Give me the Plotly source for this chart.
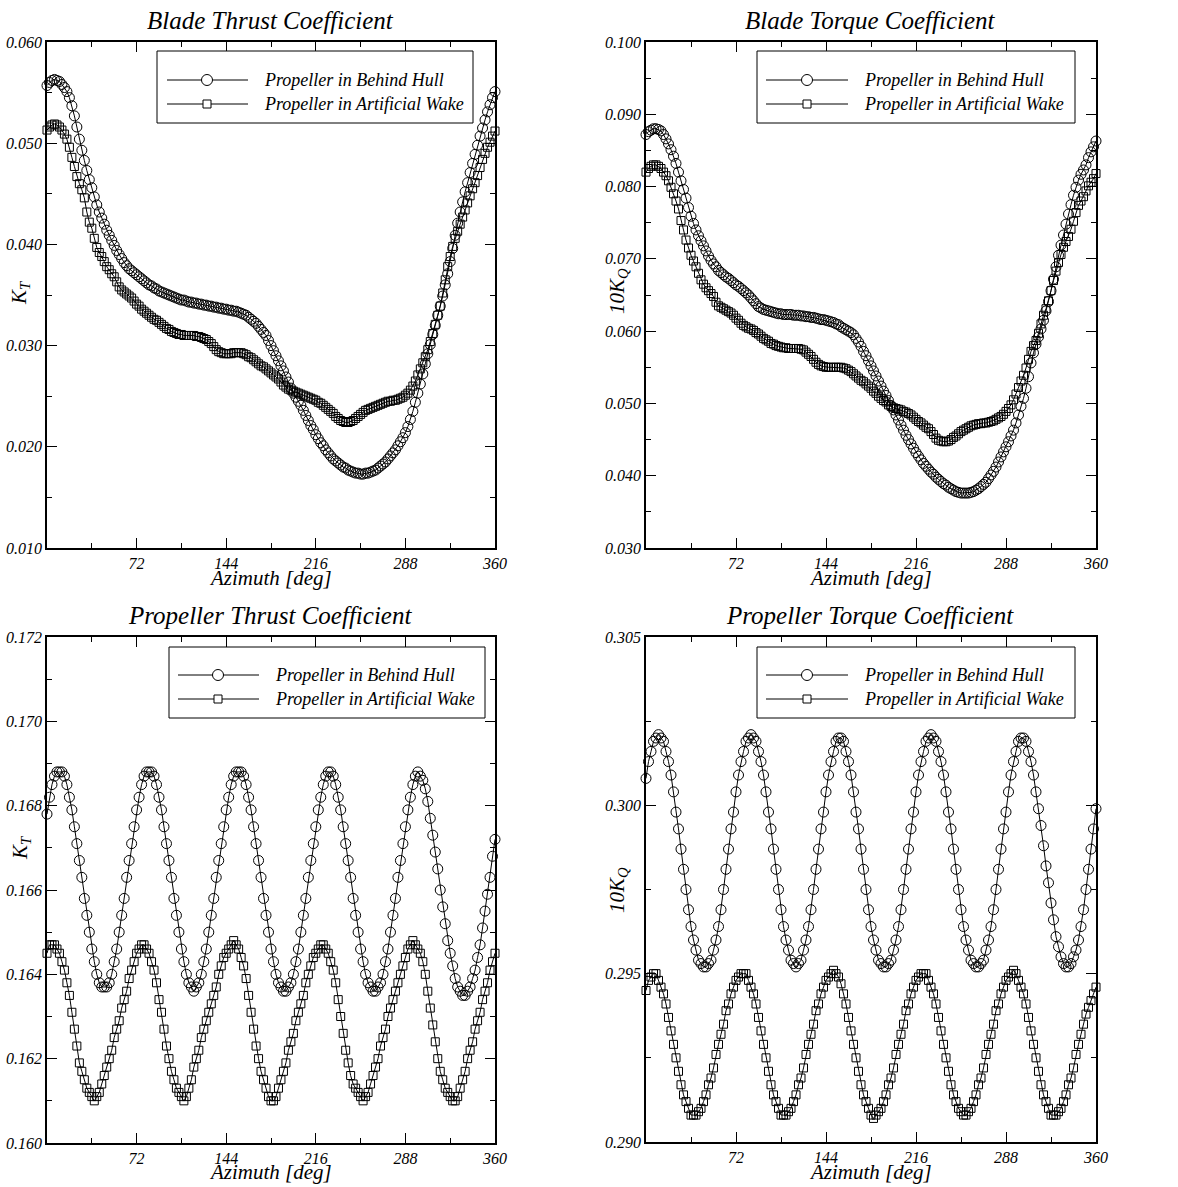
import plotly.graph_objects as go

# ---------------- data ----------------
AZIMUTH = list(range(0, 361, 2))

BLADE_KT_HULL = [
    0.0557, 0.0560, 0.0562, 0.0563, 0.0562, 0.0561, 0.0558, 0.0555, 0.0551, 0.0545,
    0.0537, 0.0527, 0.0516, 0.0504, 0.0493, 0.0483, 0.0473, 0.0464, 0.0456, 0.0447,
    0.0439, 0.0432, 0.0426, 0.0420, 0.0414, 0.0409, 0.0404, 0.0399, 0.0394, 0.0390,
    0.0386, 0.0382, 0.0379, 0.0376, 0.0374, 0.0372, 0.0370, 0.0368, 0.0366, 0.0364,
    0.0362, 0.0360, 0.0359, 0.0357, 0.0356, 0.0354, 0.0353, 0.0352, 0.0351, 0.0350,
    0.0349, 0.0348, 0.0347, 0.0346, 0.0345, 0.0345, 0.0344, 0.0343, 0.0343, 0.0342,
    0.0342, 0.0341, 0.0341, 0.0340, 0.0340, 0.0339, 0.0339, 0.0338, 0.0338, 0.0337,
    0.0337, 0.0336, 0.0336, 0.0335, 0.0335, 0.0334, 0.0334, 0.0333, 0.0332, 0.0331,
    0.0330, 0.0328, 0.0326, 0.0324, 0.0322, 0.0319, 0.0316, 0.0313, 0.0310, 0.0305,
    0.0300, 0.0295, 0.0290, 0.0285, 0.0280, 0.0275, 0.0269, 0.0264, 0.0258, 0.0253,
    0.0249, 0.0245, 0.0241, 0.0236, 0.0231, 0.0226, 0.0221, 0.0217, 0.0212, 0.0208,
    0.0204, 0.0201, 0.0197, 0.0194, 0.0191, 0.0188, 0.0186, 0.0184, 0.0182, 0.0180,
    0.0179, 0.0177, 0.0176, 0.0175, 0.0174, 0.0174, 0.0173, 0.0173, 0.0174, 0.0174,
    0.0175, 0.0176, 0.0177, 0.0179, 0.0181, 0.0183, 0.0185, 0.0188, 0.0191, 0.0194,
    0.0197, 0.0201, 0.0205, 0.0209, 0.0214, 0.0220, 0.0227, 0.0235, 0.0244, 0.0253,
    0.0262, 0.0272, 0.0282, 0.0292, 0.0301, 0.0311, 0.0320, 0.0330, 0.0339, 0.0349,
    0.0360, 0.0371, 0.0383, 0.0396, 0.0409, 0.0421, 0.0432, 0.0442, 0.0452, 0.0461,
    0.0471, 0.0480, 0.0489, 0.0498, 0.0507, 0.0515, 0.0523, 0.0531, 0.0538, 0.0545,
    0.0551,
]

BLADE_KT_WAKE = [
    0.0513, 0.0516, 0.0518, 0.0519, 0.0518, 0.0516, 0.0513, 0.0509, 0.0504, 0.0496,
    0.0486, 0.0477, 0.0467, 0.0460, 0.0454, 0.0446, 0.0432, 0.0422, 0.0416, 0.0406,
    0.0397, 0.0392, 0.0388, 0.0383, 0.0378, 0.0375, 0.0371, 0.0368, 0.0363, 0.0358,
    0.0355, 0.0353, 0.0351, 0.0349, 0.0347, 0.0344, 0.0341, 0.0339, 0.0336, 0.0334,
    0.0332, 0.0330, 0.0328, 0.0326, 0.0325, 0.0323, 0.0321, 0.0319, 0.0317, 0.0316,
    0.0314, 0.0313, 0.0312, 0.0311, 0.0311, 0.0310, 0.0310, 0.0310, 0.0310, 0.0310,
    0.0309, 0.0309, 0.0308, 0.0307, 0.0306, 0.0304, 0.0302, 0.0299, 0.0296, 0.0294,
    0.0293, 0.0292, 0.0292, 0.0292, 0.0292, 0.0293, 0.0293, 0.0293, 0.0293, 0.0292,
    0.0291, 0.0289, 0.0288, 0.0286, 0.0284, 0.0282, 0.0280, 0.0279, 0.0277, 0.0275,
    0.0273, 0.0271, 0.0269, 0.0267, 0.0264, 0.0261, 0.0259, 0.0257, 0.0256, 0.0255,
    0.0254, 0.0253, 0.0252, 0.0251, 0.0250, 0.0249, 0.0248, 0.0247, 0.0246, 0.0244,
    0.0243, 0.0241, 0.0239, 0.0237, 0.0235, 0.0233, 0.0230, 0.0228, 0.0226, 0.0225,
    0.0224, 0.0224, 0.0225, 0.0226, 0.0228, 0.0230, 0.0232, 0.0234, 0.0236, 0.0237,
    0.0238, 0.0239, 0.0240, 0.0241, 0.0242, 0.0243, 0.0244, 0.0245, 0.0245, 0.0246,
    0.0246, 0.0247, 0.0248, 0.0249, 0.0251, 0.0253, 0.0256, 0.0260, 0.0265, 0.0271,
    0.0277, 0.0283, 0.0289, 0.0296, 0.0304, 0.0312, 0.0321, 0.0330, 0.0339, 0.0352,
    0.0365, 0.0378, 0.0388, 0.0398, 0.0406, 0.0413, 0.0420, 0.0427, 0.0434, 0.0441,
    0.0448, 0.0455, 0.0461, 0.0468, 0.0476, 0.0484, 0.0490, 0.0496, 0.0501, 0.0507,
    0.0512,
]

BLADE_KQ_HULL = [
    0.0872, 0.0876, 0.0878, 0.0880, 0.0880, 0.0879, 0.0877, 0.0872, 0.0866, 0.0859,
    0.0851, 0.0842, 0.0832, 0.0820, 0.0808, 0.0796, 0.0784, 0.0771, 0.0759, 0.0749,
    0.0740, 0.0732, 0.0725, 0.0718, 0.0711, 0.0704, 0.0698, 0.0693, 0.0689, 0.0684,
    0.0681, 0.0678, 0.0675, 0.0673, 0.0670, 0.0667, 0.0664, 0.0662, 0.0659, 0.0656,
    0.0653, 0.0650, 0.0646, 0.0642, 0.0638, 0.0634, 0.0632, 0.0630, 0.0629, 0.0628,
    0.0627, 0.0626, 0.0625, 0.0624, 0.0624, 0.0623, 0.0623, 0.0623, 0.0623, 0.0622,
    0.0622, 0.0622, 0.0621, 0.0621, 0.0620, 0.0620, 0.0619, 0.0619, 0.0618, 0.0617,
    0.0616, 0.0616, 0.0615, 0.0614, 0.0613, 0.0612, 0.0610, 0.0609, 0.0606, 0.0604,
    0.0602, 0.0600, 0.0598, 0.0595, 0.0590, 0.0585, 0.0579, 0.0572, 0.0566, 0.0559,
    0.0552, 0.0545, 0.0538, 0.0531, 0.0524, 0.0517, 0.0511, 0.0504, 0.0497, 0.0491,
    0.0484, 0.0477, 0.0470, 0.0463, 0.0456, 0.0450, 0.0444, 0.0438, 0.0432, 0.0427,
    0.0422, 0.0417, 0.0413, 0.0409, 0.0405, 0.0402, 0.0398, 0.0395, 0.0392, 0.0389,
    0.0387, 0.0384, 0.0382, 0.0380, 0.0378, 0.0377, 0.0376, 0.0376, 0.0376, 0.0376,
    0.0377, 0.0378, 0.0380, 0.0382, 0.0385, 0.0388, 0.0391, 0.0396, 0.0401, 0.0406,
    0.0412, 0.0419, 0.0426, 0.0433, 0.0440, 0.0447, 0.0455, 0.0463, 0.0473, 0.0484,
    0.0496, 0.0507, 0.0521, 0.0537, 0.0556, 0.0570, 0.0582, 0.0592, 0.0603, 0.0615,
    0.0628, 0.0641, 0.0656, 0.0672, 0.0689, 0.0705, 0.0719, 0.0733, 0.0748, 0.0762,
    0.0775, 0.0788, 0.0799, 0.0809, 0.0817, 0.0823, 0.0830, 0.0840, 0.0848, 0.0855,
    0.0863,
]

BLADE_KQ_WAKE = [
    0.0820, 0.0825, 0.0828, 0.0830, 0.0830, 0.0828, 0.0825, 0.0820, 0.0815, 0.0808,
    0.0799, 0.0790, 0.0780, 0.0769, 0.0753, 0.0740, 0.0726, 0.0715, 0.0705, 0.0697,
    0.0689, 0.0680, 0.0671, 0.0665, 0.0660, 0.0656, 0.0652, 0.0648, 0.0640, 0.0635,
    0.0633, 0.0631, 0.0629, 0.0627, 0.0625, 0.0622, 0.0618, 0.0615, 0.0611, 0.0608,
    0.0606, 0.0604, 0.0603, 0.0601, 0.0598, 0.0596, 0.0593, 0.0590, 0.0588, 0.0586,
    0.0583, 0.0582, 0.0580, 0.0579, 0.0578, 0.0577, 0.0577, 0.0576, 0.0576, 0.0576,
    0.0576, 0.0576, 0.0575, 0.0574, 0.0571, 0.0568, 0.0565, 0.0561, 0.0557, 0.0554,
    0.0552, 0.0551, 0.0550, 0.0550, 0.0550, 0.0550, 0.0550, 0.0550, 0.0550, 0.0549,
    0.0548, 0.0546, 0.0544, 0.0541, 0.0538, 0.0535, 0.0532, 0.0530, 0.0527, 0.0524,
    0.0521, 0.0517, 0.0514, 0.0510, 0.0507, 0.0504, 0.0502, 0.0498, 0.0496, 0.0494,
    0.0493, 0.0492, 0.0491, 0.0489, 0.0488, 0.0486, 0.0484, 0.0481, 0.0478, 0.0475,
    0.0473, 0.0470, 0.0467, 0.0465, 0.0461, 0.0457, 0.0452, 0.0449, 0.0448, 0.0447,
    0.0447, 0.0448, 0.0450, 0.0453, 0.0455, 0.0458, 0.0461, 0.0463, 0.0465, 0.0467,
    0.0469, 0.0470, 0.0471, 0.0472, 0.0472, 0.0473, 0.0473, 0.0474, 0.0475, 0.0476,
    0.0478, 0.0480, 0.0482, 0.0485, 0.0489, 0.0493, 0.0498, 0.0505, 0.0513, 0.0522,
    0.0531, 0.0539, 0.0549, 0.0561, 0.0572, 0.0580, 0.0587, 0.0597, 0.0610, 0.0622,
    0.0631, 0.0642, 0.0656, 0.0670, 0.0683, 0.0695, 0.0706, 0.0716, 0.0724, 0.0731,
    0.0741, 0.0752, 0.0764, 0.0774, 0.0780, 0.0786, 0.0794, 0.0801, 0.0806, 0.0811,
    0.0818,
]

PROP_KT_HULL = [
    0.1678, 0.1682, 0.1685, 0.1687, 0.1688, 0.1688, 0.1688, 0.1687, 0.1685, 0.1682,
    0.1679, 0.1675, 0.1671, 0.1667, 0.1663, 0.1658, 0.1654, 0.1650, 0.1646, 0.1643,
    0.1640, 0.1638, 0.1637, 0.1637, 0.1637, 0.1638, 0.1640, 0.1643, 0.1646, 0.1650,
    0.1654, 0.1658, 0.1663, 0.1667, 0.1671, 0.1675, 0.1679, 0.1682, 0.1685, 0.1687,
    0.1688, 0.1688, 0.1688, 0.1687, 0.1685, 0.1682, 0.1679, 0.1675, 0.1671, 0.1667,
    0.1663, 0.1658, 0.1654, 0.1650, 0.1646, 0.1643, 0.1640, 0.1638, 0.1637, 0.1636,
    0.1637, 0.1638, 0.1640, 0.1643, 0.1646, 0.1650, 0.1654, 0.1658, 0.1663, 0.1667,
    0.1671, 0.1675, 0.1679, 0.1682, 0.1685, 0.1687, 0.1688, 0.1688, 0.1688, 0.1687,
    0.1685, 0.1682, 0.1679, 0.1675, 0.1671, 0.1667, 0.1663, 0.1658, 0.1654, 0.1650,
    0.1646, 0.1643, 0.1640, 0.1638, 0.1637, 0.1636, 0.1636, 0.1637, 0.1638, 0.1640,
    0.1643, 0.1646, 0.1650, 0.1654, 0.1658, 0.1663, 0.1667, 0.1671, 0.1675, 0.1679,
    0.1682, 0.1685, 0.1687, 0.1688, 0.1688, 0.1687, 0.1685, 0.1682, 0.1679, 0.1675,
    0.1671, 0.1667, 0.1663, 0.1658, 0.1654, 0.1650, 0.1646, 0.1643, 0.1640, 0.1638,
    0.1637, 0.1636, 0.1636, 0.1637, 0.1638, 0.1640, 0.1643, 0.1646, 0.1650, 0.1654,
    0.1658, 0.1663, 0.1667, 0.1671, 0.1675, 0.1679, 0.1682, 0.1685, 0.1687, 0.1688,
    0.1687, 0.1686, 0.1684, 0.1681, 0.1677, 0.1673, 0.1669, 0.1665, 0.1660, 0.1656,
    0.1652, 0.1648, 0.1645, 0.1642, 0.1639, 0.1637, 0.1636, 0.1635, 0.1635, 0.1636,
    0.1637, 0.1639, 0.1641, 0.1644, 0.1647, 0.1651, 0.1655, 0.1659, 0.1663, 0.1668,
    0.1672,
]

PROP_KT_WAKE = [
    0.1645, 0.1647, 0.1647, 0.1647, 0.1646, 0.1645, 0.1643, 0.1641, 0.1638, 0.1635,
    0.1631, 0.1627, 0.1623, 0.1619, 0.1617, 0.1615, 0.1613, 0.1612, 0.1611, 0.1610,
    0.1611, 0.1612, 0.1614, 0.1616, 0.1618, 0.1620, 0.1622, 0.1625, 0.1627, 0.1629,
    0.1632, 0.1634, 0.1636, 0.1639, 0.1641, 0.1643, 0.1645, 0.1646, 0.1647, 0.1647,
    0.1646, 0.1645, 0.1643, 0.1641, 0.1638, 0.1634, 0.1631, 0.1627, 0.1623, 0.1620,
    0.1617, 0.1615, 0.1613, 0.1612, 0.1611, 0.1610, 0.1611, 0.1613, 0.1615, 0.1618,
    0.1620, 0.1622, 0.1625, 0.1627, 0.1629, 0.1631, 0.1633, 0.1635, 0.1637, 0.1640,
    0.1642, 0.1644, 0.1645, 0.1646, 0.1647, 0.1648, 0.1647, 0.1646, 0.1644, 0.1642,
    0.1639, 0.1635, 0.1631, 0.1627, 0.1623, 0.1620, 0.1617, 0.1615, 0.1613, 0.1611,
    0.1610, 0.1610, 0.1611, 0.1613, 0.1615, 0.1617, 0.1619, 0.1622, 0.1624, 0.1626,
    0.1629, 0.1631, 0.1633, 0.1635, 0.1638, 0.1640, 0.1642, 0.1644, 0.1645, 0.1646,
    0.1647, 0.1647, 0.1646, 0.1645, 0.1643, 0.1641, 0.1638, 0.1634, 0.1630, 0.1626,
    0.1622, 0.1619, 0.1616, 0.1614, 0.1613, 0.1612, 0.1611, 0.1610, 0.1611, 0.1612,
    0.1614, 0.1616, 0.1618, 0.1620, 0.1623, 0.1625, 0.1627, 0.1630, 0.1632, 0.1634,
    0.1636, 0.1638, 0.1640, 0.1642, 0.1644, 0.1646, 0.1647, 0.1648, 0.1647, 0.1646,
    0.1645, 0.1643, 0.1640, 0.1636, 0.1632, 0.1628, 0.1624, 0.1620, 0.1617, 0.1615,
    0.1613, 0.1612, 0.1611, 0.1610, 0.1610, 0.1611, 0.1613, 0.1615, 0.1617, 0.1620,
    0.1622, 0.1624, 0.1627, 0.1629, 0.1631, 0.1634, 0.1636, 0.1638, 0.1641, 0.1643,
    0.1645,
]

PROP_KQ_HULL = [
    0.3008, 0.3013, 0.3016, 0.3019, 0.3020, 0.3021, 0.3020, 0.3019, 0.3016, 0.3013,
    0.3009, 0.3004, 0.2998, 0.2993, 0.2987, 0.2981, 0.2975, 0.2969, 0.2964, 0.2960,
    0.2957, 0.2954, 0.2953, 0.2952, 0.2952, 0.2953, 0.2954, 0.2957, 0.2960, 0.2964,
    0.2969, 0.2975, 0.2981, 0.2987, 0.2993, 0.2998, 0.3004, 0.3009, 0.3013, 0.3016,
    0.3019, 0.3020, 0.3021, 0.3020, 0.3019, 0.3016, 0.3013, 0.3009, 0.3004, 0.2998,
    0.2993, 0.2987, 0.2981, 0.2975, 0.2969, 0.2964, 0.2960, 0.2957, 0.2954, 0.2953,
    0.2952, 0.2953, 0.2954, 0.2957, 0.2960, 0.2964, 0.2969, 0.2975, 0.2981, 0.2987,
    0.2993, 0.2998, 0.3004, 0.3009, 0.3013, 0.3016, 0.3019, 0.3020, 0.3020, 0.3019,
    0.3016, 0.3013, 0.3009, 0.3004, 0.2998, 0.2993, 0.2987, 0.2981, 0.2975, 0.2969,
    0.2964, 0.2960, 0.2957, 0.2954, 0.2953, 0.2952, 0.2952, 0.2953, 0.2954, 0.2957,
    0.2960, 0.2964, 0.2969, 0.2975, 0.2981, 0.2987, 0.2993, 0.2998, 0.3004, 0.3009,
    0.3013, 0.3016, 0.3019, 0.3020, 0.3021, 0.3020, 0.3019, 0.3016, 0.3013, 0.3009,
    0.3004, 0.2998, 0.2993, 0.2987, 0.2981, 0.2975, 0.2969, 0.2964, 0.2960, 0.2957,
    0.2954, 0.2953, 0.2952, 0.2952, 0.2953, 0.2954, 0.2957, 0.2960, 0.2964, 0.2969,
    0.2975, 0.2981, 0.2987, 0.2993, 0.2998, 0.3004, 0.3009, 0.3013, 0.3016, 0.3019,
    0.3020, 0.3020, 0.3019, 0.3016, 0.3013, 0.3009, 0.3004, 0.2999, 0.2994, 0.2988,
    0.2982, 0.2977, 0.2971, 0.2966, 0.2961, 0.2958, 0.2955, 0.2953, 0.2952, 0.2952,
    0.2953, 0.2955, 0.2957, 0.2960, 0.2964, 0.2969, 0.2975, 0.2981, 0.2987, 0.2993,
    0.2999,
]

PROP_KQ_WAKE = [
    0.2945, 0.2948, 0.2949, 0.2950, 0.2950, 0.2948, 0.2946, 0.2944, 0.2941, 0.2937,
    0.2933, 0.2929, 0.2925, 0.2921, 0.2917, 0.2914, 0.2912, 0.2910, 0.2908, 0.2908,
    0.2908, 0.2909, 0.2910, 0.2912, 0.2914, 0.2917, 0.2919, 0.2922, 0.2926, 0.2929,
    0.2932, 0.2935, 0.2939, 0.2941, 0.2944, 0.2946, 0.2948, 0.2949, 0.2950, 0.2950,
    0.2950, 0.2948, 0.2946, 0.2944, 0.2941, 0.2937, 0.2933, 0.2929, 0.2925, 0.2921,
    0.2917, 0.2914, 0.2912, 0.2910, 0.2908, 0.2908, 0.2908, 0.2909, 0.2910, 0.2912,
    0.2914, 0.2917, 0.2919, 0.2922, 0.2926, 0.2929, 0.2932, 0.2935, 0.2939, 0.2941,
    0.2944, 0.2946, 0.2948, 0.2949, 0.2950, 0.2951, 0.2950, 0.2949, 0.2947, 0.2944,
    0.2941, 0.2937, 0.2933, 0.2929, 0.2925, 0.2921, 0.2917, 0.2914, 0.2912, 0.2910,
    0.2908, 0.2907, 0.2908, 0.2909, 0.2910, 0.2912, 0.2914, 0.2917, 0.2919, 0.2922,
    0.2926, 0.2929, 0.2932, 0.2935, 0.2939, 0.2941, 0.2944, 0.2946, 0.2948, 0.2949,
    0.2950, 0.2950, 0.2950, 0.2948, 0.2946, 0.2944, 0.2941, 0.2937, 0.2933, 0.2929,
    0.2925, 0.2921, 0.2917, 0.2914, 0.2912, 0.2910, 0.2909, 0.2908, 0.2908, 0.2909,
    0.2910, 0.2912, 0.2914, 0.2917, 0.2919, 0.2922, 0.2926, 0.2929, 0.2932, 0.2935,
    0.2939, 0.2941, 0.2944, 0.2946, 0.2948, 0.2949, 0.2950, 0.2951, 0.2950, 0.2948,
    0.2946, 0.2944, 0.2941, 0.2937, 0.2933, 0.2929, 0.2925, 0.2921, 0.2917, 0.2914,
    0.2912, 0.2910, 0.2908, 0.2908, 0.2908, 0.2909, 0.2910, 0.2912, 0.2914, 0.2917,
    0.2919, 0.2922, 0.2926, 0.2929, 0.2932, 0.2935, 0.2938, 0.2940, 0.2942, 0.2944,
    0.2946,
]

TITLES = ["Blade Thrust Coefficient", "Blade Torque Coefficient",
          "Propeller Thrust Coefficient", "Propeller Torque Coefficient"]
Y_TITLES = ["K<sub>T</sub>", "10K<sub>Q</sub>", "K<sub>T</sub>", "10K<sub>Q</sub>"]
X_TITLE = "Azimuth [deg]"
SERIES_NAMES = ["Propeller in Behind Hull", "Propeller in Artificial Wake"]

X_TICKS = [72, 144, 216, 288, 360]
X_MINOR = [36, 108, 180, 252, 324]
Y_RANGES = [[0.010, 0.060], [0.030, 0.100], [0.160, 0.172], [0.290, 0.305]]
Y_TICKS = [
    [0.010, 0.020, 0.030, 0.040, 0.050, 0.060],
    [0.030, 0.040, 0.050, 0.060, 0.070, 0.080, 0.090, 0.100],
    [0.160, 0.162, 0.164, 0.166, 0.168, 0.170, 0.172],
    [0.290, 0.295, 0.300, 0.305],
]
Y_MINOR = [
    [0.015, 0.025, 0.035, 0.045, 0.055],
    [0.035, 0.045, 0.055, 0.065, 0.075, 0.085, 0.095],
    [0.161, 0.163, 0.165, 0.167, 0.169, 0.171],
    [0.2925, 0.2975, 0.3025],
]
HULL = [BLADE_KT_HULL, BLADE_KQ_HULL, PROP_KT_HULL, PROP_KQ_HULL]
WAKE = [BLADE_KT_WAKE, BLADE_KQ_WAKE, PROP_KT_WAKE, PROP_KQ_WAKE]

# ---------------- layout geometry (pixels) ----------------
W, H = 1178, 1187
FONT = "Liberation Serif"

# plot boxes: left, top, right, bottom
BOXES = [(47, 42, 495, 548), (646, 42, 1096, 548),
         (47, 637, 495, 1143), (646, 637, 1096, 1142)]
TITLE_POS = [(270, 20), (870, 20), (270, 616), (870, 616)]
XTITLE_POS = [(270, 578), (870, 578), (270, 1172), (870, 1172)]
YTITLE_POS = [(20, 293), (618, 291), (21, 848), (618, 890)]
# legend: box(l,t,r,b), line x0,x1, marker x, text x, row y's
LEGENDS = [
    ((157, 51, 473, 123), 167, 248, 207, 262, (80, 104)),
    ((757, 51, 1075, 123), 766, 848, 807, 862, (80, 104)),
    ((169, 647, 485, 718), 178, 259, 218, 273, (675, 699)),
    ((757, 647, 1075, 718), 766, 848, 807, 862, (675, 699)),
]


def fx(x):
    return x / W


def fy(y):
    return 1 - y / H


fig = go.Figure()
layout = dict(
    width=W, height=H, autosize=False,
    margin=dict(l=0, r=0, t=0, b=0, pad=0),
    paper_bgcolor="white", plot_bgcolor="white",
    showlegend=False,
    font=dict(family=FONT, color="black"),
)
annotations = []
shapes = []

tickfont = dict(family=FONT, size=16, color="black", style="italic")

for i in range(4):
    sfx = "" if i == 0 else str(i + 1)
    l, t, r, b = BOXES[i]
    xa = dict(
        domain=[fx(l), fx(r)], range=[0, 360], anchor="y" + sfx,
        tickmode="array", tickvals=X_TICKS, ticktext=[str(v) for v in X_TICKS],
        ticks="inside", ticklen=10, tickwidth=1.2, tickcolor="black",
        showline=True, linecolor="black", linewidth=1.5, mirror="allticks",
        showgrid=False, zeroline=False, tickfont=tickfont, automargin=False,
        minor=dict(tickmode="array", tickvals=X_MINOR, ticks="inside", ticklen=5,
                   tickwidth=1.2, tickcolor="black", showgrid=False),
    )
    ya = dict(
        domain=[fy(b), fy(t)], range=Y_RANGES[i], anchor="x" + sfx,
        tickmode="array", tickvals=Y_TICKS[i], tickformat=".3f",
        ticks="inside", ticklen=10, tickwidth=1.2, tickcolor="black",
        showline=True, linecolor="black", linewidth=1.5, mirror="allticks",
        showgrid=False, zeroline=False, tickfont=tickfont, automargin=False,
        minor=dict(tickmode="array", tickvals=Y_MINOR[i], ticks="inside", ticklen=5,
                   tickwidth=1.2, tickcolor="black", showgrid=False),
    )
    layout["xaxis" + sfx] = xa
    layout["yaxis" + sfx] = ya

    fig.add_trace(go.Scatter(
        x=AZIMUTH, y=HULL[i], xaxis="x" + sfx, yaxis="y" + sfx,
        mode="lines+markers", name=SERIES_NAMES[0], cliponaxis=False,
        line=dict(color="black", width=1),
        marker=dict(symbol="circle-open", size=10, color="black", line=dict(width=1)),
    ))
    fig.add_trace(go.Scatter(
        x=AZIMUTH, y=WAKE[i], xaxis="x" + sfx, yaxis="y" + sfx,
        mode="lines+markers", name=SERIES_NAMES[1], cliponaxis=False,
        line=dict(color="black", width=1),
        marker=dict(symbol="square-open", size=8, color="black", line=dict(width=1)),
    ))

    # titles
    tx, ty = TITLE_POS[i]
    annotations.append(dict(text="<i>" + TITLES[i] + "</i>", x=fx(tx), y=fy(ty),
                            xref="paper", yref="paper", showarrow=False,
                            xanchor="center", yanchor="middle",
                            font=dict(family=FONT, size=25, color="black")))
    ax_, ay_ = XTITLE_POS[i]
    annotations.append(dict(text="<i>" + X_TITLE + "</i>", x=fx(ax_), y=fy(ay_),
                            xref="paper", yref="paper", showarrow=False,
                            xanchor="center", yanchor="middle",
                            font=dict(family=FONT, size=21, color="black")))
    yx, yy = YTITLE_POS[i]
    annotations.append(dict(text="<i>" + Y_TITLES[i] + "</i>", x=fx(yx), y=fy(yy),
                            xref="paper", yref="paper", showarrow=False,
                            textangle=-90, xanchor="center", yanchor="middle",
                            font=dict(family=FONT, size=21, color="black")))

    # legend box
    (bl, bt, br, bb), lx0, lx1, mx, txx, rows = LEGENDS[i]
    shapes.append(dict(type="rect", xref="paper", yref="paper",
                       x0=fx(bl), x1=fx(br), y0=fy(bb), y1=fy(bt),
                       line=dict(color="black", width=1), fillcolor="white", layer="above"))
    for k, ry in enumerate(rows):
        shapes.append(dict(type="line", xref="paper", yref="paper",
                           x0=fx(lx0), x1=fx(lx1), y0=fy(ry), y1=fy(ry),
                           line=dict(color="black", width=1), layer="above"))
        if k == 0:
            shapes.append(dict(type="circle", xref="paper", yref="paper",
                               x0=fx(mx - 5.5), x1=fx(mx + 5.5), y0=fy(ry + 5.5), y1=fy(ry - 5.5),
                               line=dict(color="black", width=1), fillcolor="white", layer="above"))
        else:
            shapes.append(dict(type="rect", xref="paper", yref="paper",
                               x0=fx(mx - 4), x1=fx(mx + 4), y0=fy(ry + 4), y1=fy(ry - 4),
                               line=dict(color="black", width=1), fillcolor="white", layer="above"))
        annotations.append(dict(text="<i>" + SERIES_NAMES[k] + "</i>", x=fx(txx), y=fy(ry),
                                xref="paper", yref="paper", showarrow=False,
                                xanchor="left", yanchor="middle",
                                font=dict(family=FONT, size=18, color="black")))

layout["annotations"] = annotations
layout["shapes"] = shapes
fig.update_layout(**layout)
fig.write_html(
    "out.html",
    config={"displayModeBar": False},
    post_script="document.body.style.margin='0';document.body.style.padding='0';",
)
